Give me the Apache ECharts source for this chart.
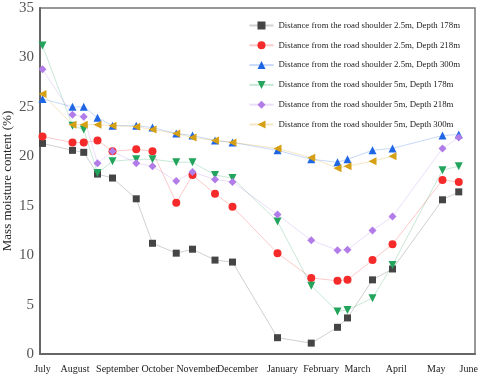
<!DOCTYPE html>
<html lang="en">
<head>
<meta charset="UTF-8">
<title>Mass moisture content</title>
<style>
  html, body { margin: 0; padding: 0; background: #fff; }
  #main { width: 480px; height: 377px; }
</style>
</head>
<body>
<div id="main"></div>
<script src="https://cdn.jsdelivr.net/npm/echarts@6/dist/echarts.min.js"></script>
<script>
// measuring dates, approx. days since start of July
var days = [2, 26, 35, 46, 58, 77, 90, 109, 122, 140, 154, 190, 217, 238, 246, 266, 282, 322, 335];

// month label positions (same day scale)
var monthNames = ['July', 'August', 'September', 'October', 'November', 'December',
  'January', 'February', 'March', 'April', 'May', 'June'];
var monthPos = [2, 28, 62, 94, 126, 158, 194, 225, 254, 285, 317, 343];

var names = [
  'Distance from the road shoulder 2.5m, Depth 178m',
  'Distance from the road shoulder 2.5m, Depth 218m',
  'Distance from the road shoulder 2.5m, Depth 300m',
  'Distance from the road shoulder 5m, Depth 178m',
  'Distance from the road shoulder 5m, Depth 218m',
  'Distance from the road shoulder 5m, Depth 300m'
];

var s25d178 = [21.3, 20.6, 20.4, 18.2, 17.8, 15.7, 11.2, 10.2, 10.6, 9.5, 9.3, 1.65, 1.1, 2.7, 3.65, 7.5, 8.6, 15.6, 16.4];
var s25d218 = [22.0, 21.4, 21.4, 21.6, 20.5, 20.7, 20.5, 15.3, 18.1, 16.2, 14.9, 10.2, 7.7, 7.4, 7.5, 9.5, 11.1, 17.6, 17.4];
var s25d300 = [25.8, 25.0, 25.0, 23.9, 23.1, 23.1, 22.9, 22.3, 22.1, 21.6, 21.4, 20.6, 19.7, 19.4, 19.7, 20.6, 20.8, 22.1, 22.2];
var s5d178 = [31.2, 23.1, 22.7, 18.3, 19.5, 19.7, 19.7, 19.4, 19.4, 18.1, 17.8, 13.4, 6.9, 4.3, 4.45, 5.65, 9.0, 18.6, 19.0];
var s5d218 = [28.8, 24.2, 24.0, 19.3, 20.5, 19.3, 19.0, 17.5, 18.4, 17.65, 17.4, 14.1, 11.5, 10.5, 10.55, 12.5, 13.9, 20.8, 21.9];
var s5d300 = [26.3, 23.2, 23.2, 23.2, 23.1, 23.0, 22.7, 22.3, 21.9, 21.6, 21.4, 20.8, 19.85, 18.8, 19.0, 19.5, 20.0, '-', '-'];

var values = [s25d178, s25d218, s25d300, s5d178, s5d218, s5d300];
var colors = ['#454545', '#f52a2a', '#1f66e5', '#22a45c', '#b27ce8', '#d6a015'];
var symbols = ['rect', 'circle', 'triangle', 'triangle', 'diamond', 'triangle'];
var rotates = [0, 0, 0, 180, 0, 90];

var serif = '"Liberation Serif", "DejaVu Serif", serif';

var series = values.map(function (vals, k) {
  return {
    name: names[k],
    type: 'line',
    data: vals.map(function (v, i) { return [days[i], v]; }),
    symbol: symbols[k],
    symbolRotate: rotates[k],
    symbolSize: k === 0 ? 7 : 8,
    itemStyle: { color: colors[k] },
    lineStyle: { width: 1, color: colors[k], opacity: 0.25 },
    connectNulls: false
  };
});

var myChart = echarts.init(document.getElementById('main'));
var option = {
  animation: false,
  grid: {
    left: 40, right: 5, top: 8, bottom: 23,
    outerBoundsMode: 'none',
    containLabel: false,
    show: true, borderColor: '#777', borderWidth: 1.5
  },
  legend: {
    orient: 'vertical',
    right: 20,
    top: 21,
    padding: 0,
    itemGap: 10.8,
    itemWidth: 24,
    itemHeight: 10,
    textStyle: { fontFamily: serif, fontSize: 8.8, color: '#222' },
    data: names
  },
  xAxis: {
    type: 'value',
    min: 0,
    max: 348,
    splitLine: { show: false },
    axisLine: { lineStyle: { color: '#666', width: 2 } },
    axisTick: { show: false },
    axisLabel: {
      customValues: monthPos,
      alignMinLabel: 'center',
      alignMaxLabel: 'center',
      margin: 10,
      fontFamily: serif,
      fontSize: 10,
      color: '#222',
      formatter: function (v) {
        var i = monthPos.indexOf(v);
        return i >= 0 ? monthNames[i] : '';
      }
    }
  },
  yAxis: {
    type: 'value',
    min: 0,
    max: 35,
    interval: 5,
    name: 'Mass moisture content (%)',
    nameLocation: 'middle',
    nameGap: 26,
    nameMoveOverlap: false,
    nameTextStyle: { fontFamily: serif, fontSize: 13, color: '#222' },
    splitLine: { show: false },
    axisLine: { show: true, lineStyle: { color: '#666', width: 2 } },
    axisTick: { show: false },
    axisLabel: { fontFamily: serif, fontSize: 15, color: '#555', margin: 6 }
  },
  series: series
};
myChart.setOption(option);
</script>
</body>
</html>
